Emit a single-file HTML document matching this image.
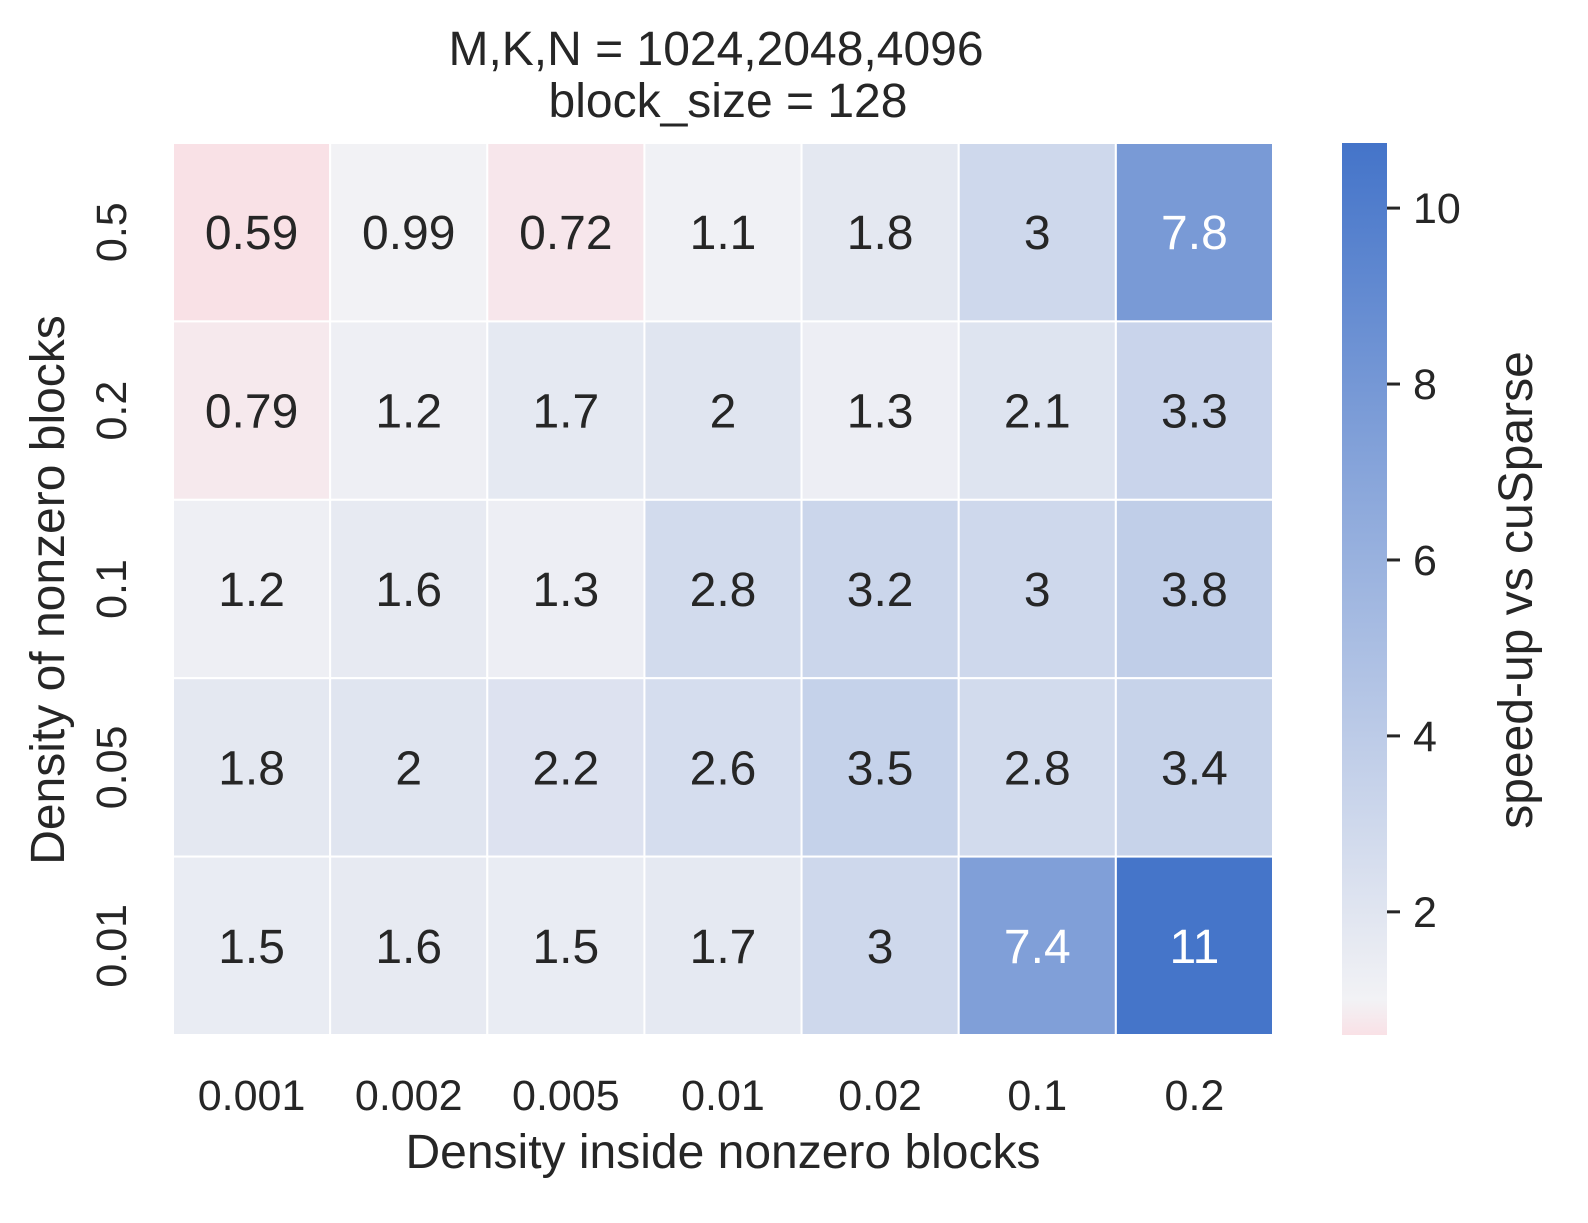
<!DOCTYPE html>
<html><head><meta charset="utf-8"><style>
html,body{margin:0;padding:0;background:#fff;overflow:hidden;font-family:"Liberation Sans",sans-serif;}
svg{display:block;}
svg text{font-family:"Liberation Sans",sans-serif;fill:#262626;}
</style></head><body>
<svg id="chart" width="1588" height="1223">
<text x="716" y="65" font-size="48" text-anchor="middle">M,K,N = 1024,2048,4096</text>
<text x="728" y="117" font-size="48" text-anchor="middle">block_size = 128</text>
<text x="723" y="1168" font-size="48" text-anchor="middle">Density inside nonzero blocks</text>
<text transform="translate(64,590) rotate(-90)" font-size="48" text-anchor="middle">Density of nonzero blocks</text>
<text transform="translate(1532,590) rotate(-90)" font-size="48" text-anchor="middle">speed-up vs cuSparse</text>
<defs><linearGradient id="cbg" x1="0" y1="1" x2="0" y2="0">
<stop offset="0" stop-color="#f9e1e6"/><stop offset="0.039" stop-color="#f2f2f5"/><stop offset="1" stop-color="#4474c9"/>
</linearGradient></defs>
<rect x="1342" y="143" width="45" height="892" fill="url(#cbg)"/>
<g id="cells"></g><g id="cbticks"></g><g id="axes"></g>
</svg>
<script>
const xCats=["0.001","0.002","0.005","0.01","0.02","0.1","0.2"];
const yCats=["0.5","0.2","0.1","0.05","0.01"];
const values=[
[0.59,0.99,0.72,1.1,1.8,3,7.8],
[0.79,1.2,1.7,2,1.3,2.1,3.3],
[1.2,1.6,1.3,2.8,3.2,3,3.8],
[1.8,2,2.2,2.6,3.5,2.8,3.4],
[1.5,1.6,1.5,1.7,3,7.4,10.7]];
const labels=[
["0.59","0.99","0.72","1.1","1.8","3","7.8"],
["0.79","1.2","1.7","2","1.3","2.1","3.3"],
["1.2","1.6","1.3","2.8","3.2","3","3.8"],
["1.8","2","2.2","2.6","3.5","2.8","3.4"],
["1.5","1.6","1.5","1.7","3","7.4","11"]];
const cbTicks=[2,4,6,8,10];
const vmin=0.6,vmax=10.74,center=1;
const X0=173,X1=1273,Y0=143,Y1=1035;
const cw=(X1-X0)/xCats.length,ch=(Y1-Y0)/yCats.length;
const xs=i=>X0+i*cw, ys=j=>Y0+j*ch;
const cbY=v=>Y1-(v-vmin)/(vmax-vmin)*(Y1-Y0);
function color(v){
  let a,b,t;
  if(v<center){a=[249,225,230];b=[242,242,245];t=(v-0.59)/(center-0.59);}
  else{a=[242,242,245];b=[68,116,201];t=(v-center)/(vmax-center);}
  t=Math.max(0,Math.min(1,t));
  return `rgb(${a.map((c,k)=>Math.round(c+(b[k]-c)*t)).join(",")})`;
}
const NS="http://www.w3.org/2000/svg";
const mk=(tag,at,par)=>{const e=document.createElementNS(NS,tag);for(const k in at)e.setAttribute(k,at[k]);par.appendChild(e);return e;};
const cells=document.getElementById("cells"),ax=document.getElementById("axes"),cb=document.getElementById("cbticks");
values.forEach((row,j)=>row.forEach((v,i)=>{
  const r=mk("rect",{x:xs(i),y:ys(j),width:cw,height:ch,fill:color(v),stroke:"#fff","stroke-width":2},cells);
  
  
  const t=mk("text",{x:xs(i)+cw/2,y:ys(j)+ch/2+17,"font-size":48,"text-anchor":"middle"},cells);
  t.textContent=labels[j][i];
  if(v>6)t.style.fill="#fff";
  
  
}));
xCats.forEach((c,i)=>{
  const t=mk("text",{x:xs(i)+cw/2,y:1110,"font-size":43,"text-anchor":"middle"},ax);
  t.textContent=c;
  
  
});
yCats.forEach((c,j)=>{
  const y=ys(j)+ch/2;
  const t=mk("text",{transform:`translate(126,${y}) rotate(-90)`,"font-size":43,"text-anchor":"middle"},ax);
  t.textContent=c;
  
  
});
cbTicks.forEach(v=>{
  const y=cbY(v);
  const l=mk("line",{x1:1387,x2:1400,y1:y,y2:y,stroke:"#262626","stroke-width":3},cb);
  
  
  const t=mk("text",{x:1413,y:y+15,"font-size":43},cb);
  t.textContent=v;
  
  
});
</script>
</body></html>
